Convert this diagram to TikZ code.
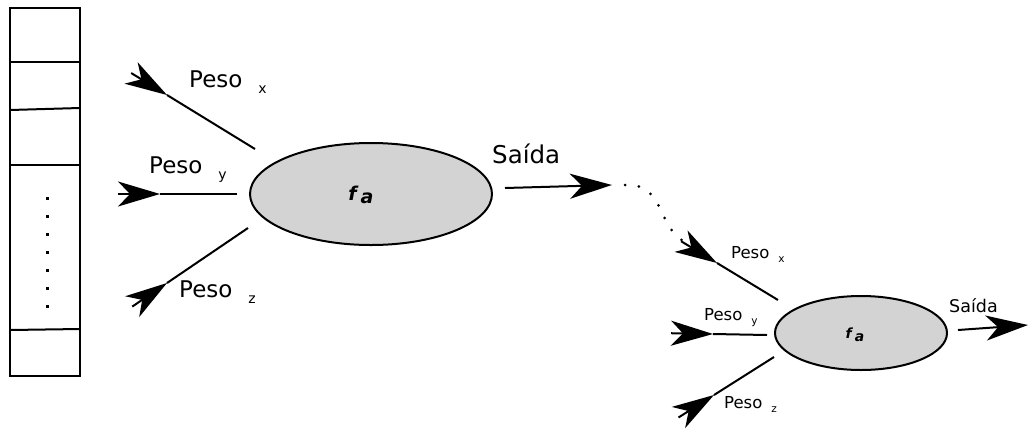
\documentclass[tikz,border=0pt]{standalone}
\usepackage{fontspec}
\setmainfont{DejaVu Sans}
\usetikzlibrary{arrows.meta,calc,shapes.geometric}
\definecolor{cellgray}{HTML}{D3D3D3}

% weight labels: "Peso" followed by a lowered index letter
\newcommand{\pesoBig}[1]{Peso\hspace{16pt}\raisebox{-6pt}{\fontsize{14}{16}\selectfont #1}}
\newcommand{\pesoSmall}[1]{Peso\hspace{9pt}\raisebox{-4pt}{\fontsize{10.5}{12}\selectfont #1}}

\begin{document}
\begin{tikzpicture}[x=1pt,y=-1pt,
  wire/.style={line width=2pt},
  >={Stealth[length=42pt,width=25pt,inset=12pt]},
  neuron/.style={ellipse,draw,line width=2pt,fill=cellgray,inner sep=0pt},
  lblbig/.style={anchor=base west,inner sep=0pt,font=\fontsize{23}{27}\selectfont},
  lblsmall/.style={anchor=base west,inner sep=0pt,font=\fontsize{16.5}{20}\selectfont},
  outbig/.style={anchor=base west,inner sep=0pt,font=\fontsize{24.5}{29}\selectfont},
  outsmall/.style={anchor=base west,inner sep=0pt,font=\fontsize{17.5}{21}\selectfont},
  fn/.style={inner sep=0pt}]
\useasboundingbox (0,0) rectangle (1028,429);

% memory column on the left
\draw[wire] (10,8) rectangle (80,376);
\draw[wire] (10,62) -- (80,62);
\draw[wire] (10,110) -- (80,108);
\draw[wire] (10,165) -- (80,165);
\draw[wire] (10,330) -- (80,329);
\foreach \yy in {198,216,234,252,270,288,306}
  \fill (45.5,\yy-1.5) rectangle ++(3,3);

% first neuron
\node[neuron,minimum width=242pt,minimum height=102pt] (A) at (371,194) {};
\node[fn,font=\fontsize{19}{22}\selectfont\bfseries\itshape] (fA) at (361,195) {f\hspace{4pt}\raisebox{-3pt}{a}};

\coordinate (ax1) at (167,95);  \coordinate (ax2) at (255,149);
\coordinate (ay1) at (160,194); \coordinate (ay2) at (237,194);
\coordinate (az1) at (167,283); \coordinate (az2) at (248,228);
\foreach \w in {ax,ay,az} {
  \draw[wire] (\w1) -- (\w2);
  \draw[wire,->] ($(\w1)!-42pt!(\w2)$) -- (\w1);
}
\node[lblbig] (px1) at (189,87) {\pesoBig{x}};
\node[lblbig] (py1) at (149,173) {\pesoBig{y}};
\node[lblbig] (pz1) at (179,297) {\pesoBig{z}};

% output of the first neuron, continuing as a dotted path
\coordinate (sA1) at (505,188); \coordinate (sA2) at (612,185);
\draw[wire,->] (sA1) -- (sA2);
\node[outbig] (saA) at (492,163) {Saída};
\coordinate (dA) at (625,185); \coordinate (dB) at (690,244);
\draw[line width=3pt,line cap=round,dash pattern=on 0pt off 14pt]
  (dA) .. controls (668,183) and (655,232) .. (dB);

% second neuron
\node[neuron,minimum width=172pt,minimum height=74pt] (B) at (861,333) {};
\node[fn,font=\fontsize{14}{16}\selectfont\bfseries\itshape] (fB) at (855,335) {f\hspace{3pt}\raisebox{-2.5pt}{a}};

\coordinate (bx1) at (717,263); \coordinate (bx2) at (778,300);
\coordinate (by1) at (713,334); \coordinate (by2) at (767,335);
\coordinate (bz1) at (714,395); \coordinate (bz2) at (774,357);
\foreach \w in {bx,by,bz} {
  \draw[wire] (\w1) -- (\w2);
  \draw[wire,->] ($(\w1)!-42pt!(\w2)$) -- (\w1);
}
\node[lblsmall] (px2) at (731,258) {\pesoSmall{x}};
\node[lblsmall] (py2) at (704,320) {\pesoSmall{y}};
\node[lblsmall] (pz2) at (724,408) {\pesoSmall{z}};

\coordinate (sB1) at (958,330); \coordinate (sB2) at (1028,325);
\draw[wire,->] (sB1) -- (sB2);
\node[outsmall] (saB) at (949,312) {Saída};
\end{tikzpicture}
\end{document}
